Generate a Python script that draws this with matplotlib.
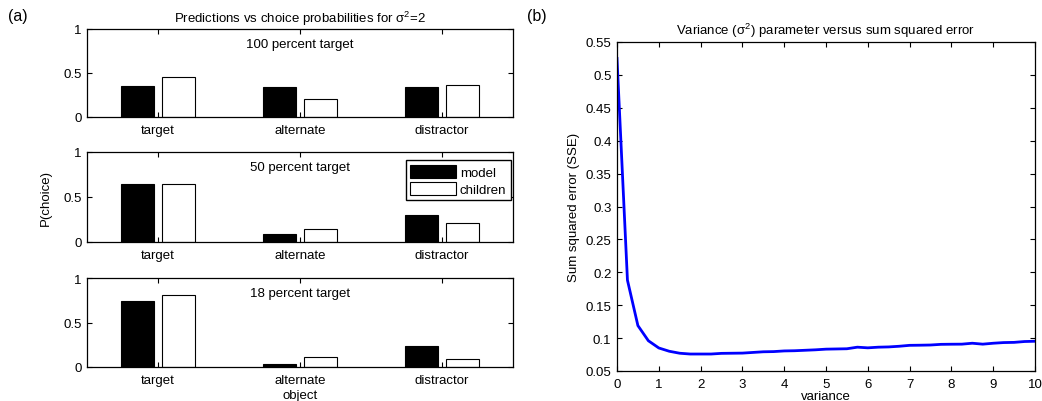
import numpy as np
import matplotlib
matplotlib.use("Agg")
from matplotlib import pyplot as plt

plt.rcParams['font.family'] = ['Liberation Sans', 'DejaVu Sans']
plt.rcParams['font.size'] = 9.5

# bar data: model vs children choice probabilities
categories = ['target', 'alternate', 'distractor']
panel_titles = ['100 percent target', '50 percent target', '18 percent target']
model_vals = [[0.35, 0.34, 0.34],
              [0.64, 0.09, 0.30],
              [0.74, 0.03, 0.24]]
children_vals = [[0.46, 0.21, 0.36],
                 [0.65, 0.15, 0.21],
                 [0.81, 0.11, 0.09]]

# SSE curve
variance = [0, 0.25, 0.5, 0.75, 1.0, 1.25, 1.5, 1.75, 2.0, 2.25, 2.5, 2.75, 3.0,
            3.25, 3.5, 3.75, 4.0, 4.25, 4.5, 4.75, 5.0, 5.25, 5.5, 5.75, 6.0,
            6.25, 6.5, 6.75, 7.0, 7.25, 7.5, 7.75, 8.0, 8.25, 8.5, 8.75, 9.0,
            9.25, 9.5, 9.75, 10.0]
sse = [0.525, 0.188, 0.119, 0.096, 0.085, 0.080, 0.077, 0.0758, 0.0758, 0.0758,
       0.0768, 0.0770, 0.0772, 0.0782, 0.0792, 0.0795, 0.0805, 0.0808, 0.0815,
       0.0822, 0.0832, 0.0835, 0.0838, 0.0862, 0.0852, 0.0862, 0.0866, 0.0876,
       0.0890, 0.0892, 0.0895, 0.0905, 0.0907, 0.0908, 0.0922, 0.0908, 0.0922,
       0.0932, 0.0935, 0.0948, 0.0952]

W, H = 1042, 402
fig = plt.figure(figsize=(W / 100, H / 100), dpi=100)


def px_axes(x0, y0, x1, y1):
    return fig.add_axes([x0 / W, 1 - y1 / H, (x1 - x0) / W, (y1 - y0) / H])


def matlab_style(ax):
    ax.tick_params(direction='in', top=True, right=True, length=3.5, width=0.8,
                   labelsize=9.5)
    ax.tick_params(axis='x', pad=5)
    ax.tick_params(axis='y', pad=4)
    for s in ax.spines.values():
        s.set_linewidth(0.9)


panel_pos = [(87, 30, 513, 118), (87, 153, 513, 243), (87, 279, 513, 368)]
x = np.arange(1, len(categories) + 1)
bw = 0.23
for i, (x0, y0, x1, y1) in enumerate(panel_pos):
    ax = px_axes(x0, y0, x1, y1)
    ax.bar(x - 0.145, model_vals[i], bw, color='black', edgecolor='black',
           linewidth=0.8, label='model')
    ax.bar(x + 0.145, children_vals[i], bw, color='white', edgecolor='black',
           linewidth=0.8, label='children')
    ax.set_xlim(0.5, 3.5)
    ax.set_ylim(0, 1)
    ax.set_yticks([0, 0.5, 1])
    ax.set_yticklabels(['0', '0.5', '1'])
    ax.set_xticks(x)
    ax.set_xticklabels(categories)
    matlab_style(ax)
    ax.text(0.5, 0.83, panel_titles[i], transform=ax.transAxes, ha='center',
            va='center', fontsize=9.5)
    if i == 0:
        ax.set_title('Predictions vs choice probabilities for $\\mathregular{\\sigma^2}$=2',
                     fontsize=9.5, pad=5)
    if i == 1:
        ax.set_ylabel('P(choice)', fontsize=9.5, labelpad=8)
        ax.legend(loc='upper right', bbox_to_anchor=(0.995, 0.91), fontsize=9.5,
                  frameon=True, fancybox=False, edgecolor='black', framealpha=1,
                  handlelength=3.5, handleheight=1.2, borderpad=0.35,
                  labelspacing=0.2, handletextpad=0.25, borderaxespad=0)
    if i == 2:
        ax.set_xlabel('object', fontsize=9.5, labelpad=2)

ax2 = px_axes(617, 43, 1035, 372)
ax2.plot(variance, sse, color='blue', linewidth=2)
ax2.set_xlim(0, 10)
ax2.set_ylim(0.05, 0.55)
ax2.set_xticks(range(0, 11))
ax2.set_yticks(np.arange(0.05, 0.551, 0.05))
ax2.set_yticklabels(['0.05', '0.1', '0.15', '0.2', '0.25', '0.3', '0.35', '0.4',
                     '0.45', '0.5', '0.55'])
matlab_style(ax2)
ax2.set_xlabel('variance', fontsize=9.5, labelpad=0)
ax2.set_ylabel('Sum squared error (SSE)', fontsize=9.5, labelpad=4)
ax2.set_title('Variance ($\\mathregular{\\sigma^2}$) parameter versus sum squared error',
              fontsize=9.5, pad=6)

fig.text(8 / W, 1 - 17 / H, '(a)', fontsize=11.5, va='center', ha='left')
fig.text(527 / W, 1 - 17 / H, '(b)', fontsize=11.5, va='center', ha='left')

fig.savefig('out.png', dpi=100)
